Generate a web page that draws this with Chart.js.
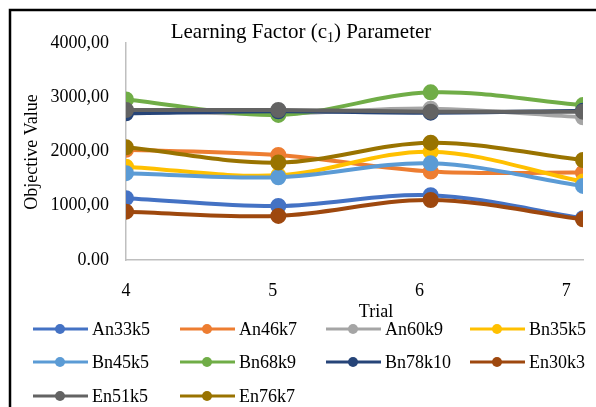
<!DOCTYPE html>
<html>
<head>
<meta charset="utf-8">
<script src="https://cdn.jsdelivr.net/npm/chart.js@4/dist/chart.umd.min.js"></script>
<style>
  html, body { margin: 0; padding: 0; background: #fff; }
  #wrap { width: 596px; height: 407px; position: relative; }
</style>
</head>
<body>
<div id="wrap"><canvas id="c" width="596" height="407"></canvas></div>
<script>
// Trials on the x axis
const trials = [4, 5, 6, 7];
const xTickLabels = ['4', '5', '6', '7'];
const yTickLabels = ['0.00', '1000,00', '2000,00', '3000,00', '4000,00'];

// Objective value per instance, one entry per trial
const seriesNames = ['An33k5', 'An46k7', 'An60k9', 'Bn35k5', 'Bn45k5',
                     'Bn68k9', 'Bn78k10', 'En30k3', 'En51k5', 'En76k7'];
const An33k5  = [1140, 995, 1195, 770];
const An46k7  = [2030, 1935, 1630, 1610];
const An60k9  = [2740, 2700, 2790, 2630];
const Bn35k5  = [1720, 1560, 1996, 1445];
const Bn45k5  = [1600, 1525, 1782, 1365];
const Bn68k9  = [2960, 2675, 3090, 2855];
const Bn78k10 = [2705, 2740, 2715, 2750];
const En30k3  = [890, 812, 1106, 750];
const En51k5  = [2765, 2765, 2734, 2734];
const En76k7  = [2077, 1795, 2162, 1843];
const seriesValues = [An33k5, An46k7, An60k9, Bn35k5, Bn45k5,
                      Bn68k9, Bn78k10, En30k3, En51k5, En76k7];

const colors = ['#4472C4', '#ED7D31', '#A5A5A5', '#FFC000', '#5B9BD5',
                '#70AD47', '#264478', '#9E480E', '#636363', '#997300'];

const SERIF = '"Liberation Serif", "Times New Roman", serif';

const datasets = seriesNames.map((name, i) => ({
  label: name,
  data: trials.map((t, k) => ({ x: t, y: seriesValues[i][k] })),
  borderColor: colors[i],
  backgroundColor: colors[i],
  pointBackgroundColor: colors[i],
  pointBorderColor: colors[i],
  borderWidth: 4,
  pointRadius: 6,
  pointHoverRadius: 6,
  tension: 0.34,
  fill: false,
  order: seriesNames.length - i
}));

// Frame, title, axis titles and legend
const decorations = {
  id: 'decorations',
  afterDraw(chart) {
    const ctx = chart.ctx;
    ctx.save();
    // outer frame
    ctx.strokeStyle = '#000';
    ctx.lineWidth = 2.5;
    ctx.beginPath();
    ctx.moveTo(10, 420);
    ctx.lineTo(10, 10);
    ctx.lineTo(600, 10);
    ctx.stroke();

    // title with subscript
    ctx.fillStyle = '#000';
    ctx.textBaseline = 'alphabetic';
    ctx.textAlign = 'left';
    const big = '21px ' + SERIF, small = '14px ' + SERIF;
    const p1 = 'Learning Factor (c', sub = '1', p2 = ') Parameter';
    ctx.font = big;
    const w1 = ctx.measureText(p1).width, w3 = ctx.measureText(p2).width;
    ctx.font = small;
    const w2 = ctx.measureText(sub).width;
    let x = 301 - (w1 + w2 + w3) / 2;
    const base = 38;
    ctx.font = big; ctx.fillText(p1, x, base); x += w1;
    ctx.font = small; ctx.fillText(sub, x, base + 4); x += w2;
    ctx.font = big; ctx.fillText(p2, x, base);

    // axis titles
    ctx.font = '18px ' + SERIF;
    ctx.textAlign = 'center';
    ctx.textBaseline = 'middle';
    ctx.fillText('Trial', 376, 312);
    ctx.save();
    ctx.translate(32, 152);
    ctx.rotate(-Math.PI / 2);
    ctx.fillText('Objective Value', 0, 0);
    ctx.restore();

    // legend: 4 columns
    const colX = [33, 180, 326, 470];
    const rowY = [329, 362, 396];
    ctx.textAlign = 'left';
    chart.data.datasets.forEach((ds, i) => {
      const cx = colX[i % 4], cy = rowY[Math.floor(i / 4)];
      ctx.strokeStyle = ds.borderColor;
      ctx.lineWidth = 3;
      ctx.beginPath();
      ctx.moveTo(cx, cy);
      ctx.lineTo(cx + 55, cy);
      ctx.stroke();
      ctx.fillStyle = ds.borderColor;
      ctx.beginPath();
      ctx.arc(cx + 27, cy, 5, 0, Math.PI * 2);
      ctx.fill();
      ctx.fillStyle = '#000';
      ctx.fillText(ds.label, cx + 59, cy + 1);
    });
    ctx.restore();
  }
};

new Chart(document.getElementById('c'), {
  type: 'line',
  data: { datasets },
  options: {
    responsive: false,
    animation: false,
    events: [],
    layout: { padding: { left: 0, top: 43, right: 13, bottom: 0 } },
    plugins: { legend: { display: false }, title: { display: false }, tooltip: { enabled: false } },
    scales: {
      x: {
        type: 'linear', position: 'bottom', min: 4, max: 7,
        ticks: { display: false },
        grid: { display: false, drawTicks: false },
        border: { display: true, color: '#BFBFBF', width: 1.5 },
        afterFit(s) { s.height = 0; }
      },
      xLbl: {
        type: 'linear', position: 'bottom', min: 4, max: 7.115,
        afterBuildTicks(s) { s.ticks = trials.map(v => ({ value: v })); },
        ticks: {
          callback: (v, i) => xTickLabels[i],
          color: '#000', font: { family: SERIF, size: 18 }, padding: 20, maxRotation: 0, autoSkip: false
        },
        grid: { display: false, drawTicks: false },
        border: { display: false },
        afterFit(s) { s.height = 147; }
      },
      y: {
        min: 0, max: 4000,
        ticks: {
          stepSize: 1000,
          callback: (v, i) => yTickLabels[i],
          color: '#000', font: { family: SERIF, size: 18 }, padding: 17
        },
        grid: { display: false, drawTicks: false },
        border: { display: true, color: '#BFBFBF', width: 1.5 },
        afterFit(s) { s.width = 126; }
      }
    }
  },
  plugins: [decorations]
});
</script>
</body>
</html>
